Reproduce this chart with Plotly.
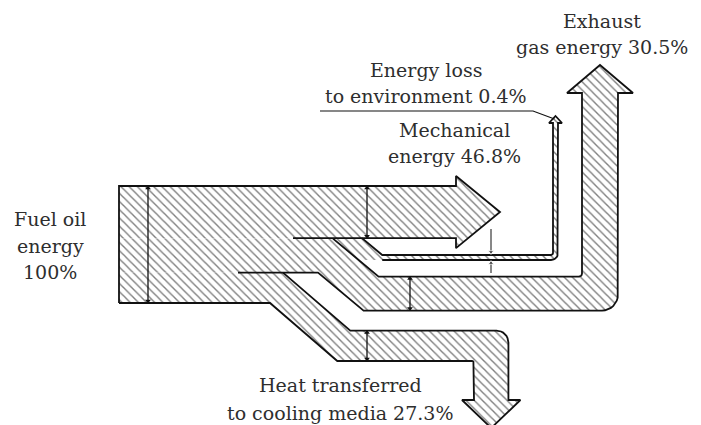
import math

import plotly.graph_objects as go

# energy balance, % of fuel oil energy
SOURCE_PCT = 100.0
MECH_PCT = 46.8
LOSS_PCT = 0.4
EXHAUST_PCT = 30.5
COOLING_PCT = 27.3

SOURCE_LINES = ["Fuel oil", "energy", f"{SOURCE_PCT:g}%"]
MECH_LINES = ["Mechanical", f"energy {MECH_PCT}%"]
LOSS_LINES = ["Energy loss", f"to environment {LOSS_PCT}%"]
EXHAUST_LINES = ["Exhaust", f"gas energy {EXHAUST_PCT}%"]
COOLING_LINES = ["Heat transferred", f"to cooling media {COOLING_PCT}%"]

W, H = 701, 425
INK = "#111111"
TEXT_COLOR = "#2e2e2e"
FONT = "DejaVu Serif"
FONT_SIZE = 19
HATCH = dict(shape="\\", size=5.8, solidity=0.24, fgcolor="#000000", bgcolor="white")

# layout of the diagram (pixel-like units, y grows downward)
X0, Y0 = 119, 186
BLOCK_H = 117
SRC_MARK_X = 148
MECH_SPLIT_X, MECH_HEAD_X, MECH_TIP_X, MECH_OVER, MECH_MARK_X = 293, 456, 500, 10, 367
LOSS_SPLIT_X, LOSS_Y, LOSS_COL_X, LOSS_HEAD_Y, LOSS_TIP_Y, LOSS_OVER, LOSS_MIN_W = 362, 255, 553, 123, 116, 4, 5
LOSS_MARK_X = 491
EXH_SPLIT_X, EXH_LOWER_X, EXH_DROP, EXH_COL_X = 333, 318, 38, 582
EXH_HEAD_Y, EXH_TIP_Y, EXH_OVER, EXH_R, EXH_MARK_X = 93, 65, 15, 16, 410
COOL_LINE_X, COOL_SPLIT_X, COOL_LOWER_X, COOL_DROP, COOL_COL_X = 238, 283, 270, 58, 474
COOL_HEAD_Y, COOL_TIP_Y, COOL_OVER, COOL_R, COOL_MARK_X = 400, 428, 12, 12, 367
SLOPE_EXH, SLOPE_COOL = 1.2, 1.16

# band widths follow the values
S = BLOCK_H / (MECH_PCT + LOSS_PCT + EXHAUST_PCT + COOLING_PCT)
w_mech = MECH_PCT * S
w_loss = max(LOSS_PCT * S, LOSS_MIN_W)
w_exh = EXHAUST_PCT * S
w_cool = COOLING_PCT * S

y_mech = Y0 + w_mech
y_exh = y_mech + LOSS_PCT * S
y_cool = y_exh + w_exh
y_bot = y_cool + w_cool


def arc(cx, cy, r, a0, a1, n=8):
    pts = []
    for i in range(n + 1):
        t = math.radians(a0 + (a1 - a0) * i / n)
        pts.append((cx + r * math.cos(t), cy + r * math.sin(t)))
    return pts


def head_up(xl, xr, y_base, y_tip, over):
    return [(xl, y_base), (xl - over, y_base), ((xl + xr) / 2, y_tip), (xr + over, y_base), (xr, y_base)]


def head_down(xl, xr, y_base, y_tip, over):
    return head_up(xr, xl, y_base, y_tip, -over)


# mechanical energy
mech_head = [(MECH_HEAD_X, Y0), (MECH_HEAD_X, Y0 - MECH_OVER), (MECH_TIP_X, (Y0 + y_mech) / 2),
             (MECH_HEAD_X, y_mech + MECH_OVER), (MECH_HEAD_X, y_mech)]
mech_fill = [(X0, Y0)] + mech_head + [(X0, y_mech)]
mech_line = [(X0, y_bot), (X0, Y0)] + mech_head + [(MECH_SPLIT_X, y_mech)]

# energy loss to environment
loss_top = LOSS_Y
loss_bot = LOSS_Y + w_loss
loss_diag_x = LOSS_SPLIT_X + (loss_top - y_mech) * SLOPE_EXH
r_in = 2
loss_path = (
    [(LOSS_SPLIT_X, y_mech), (loss_diag_x, loss_top)]
    + arc(LOSS_COL_X - r_in, loss_top - r_in, r_in, 90, 0)
    + head_up(LOSS_COL_X, LOSS_COL_X + w_loss, LOSS_HEAD_Y, LOSS_TIP_Y, LOSS_OVER)
    + arc(LOSS_COL_X + w_loss - (r_in + w_loss), loss_bot - (r_in + w_loss), r_in + w_loss, 0, 90)
)
exh_x_at_loss_bot = EXH_SPLIT_X + (loss_bot - y_exh) * SLOPE_EXH
loss_fill = loss_path + [(exh_x_at_loss_bot, loss_bot), (EXH_SPLIT_X, y_exh), (EXH_SPLIT_X, y_mech)]
loss_line = loss_path + [(loss_diag_x, loss_bot)]

# exhaust gas energy
exh_top = y_exh + EXH_DROP
exh_bot = exh_top + w_exh
exh_right = EXH_COL_X + w_exh + 2
exh_line = (
    [(EXH_SPLIT_X, y_exh), (EXH_SPLIT_X + EXH_DROP * SLOPE_EXH, exh_top)]
    + arc(EXH_COL_X - 3, exh_top - 3, 3, 90, 0)
    + head_up(EXH_COL_X, exh_right, EXH_HEAD_Y, EXH_TIP_Y, EXH_OVER)
    + arc(exh_right - EXH_R, exh_bot - EXH_R, EXH_R, 0, 90)
    + [(EXH_LOWER_X + EXH_DROP * SLOPE_EXH, exh_bot), (EXH_LOWER_X, y_cool), (COOL_LINE_X, y_cool)]
)
exh_fill = [(X0, y_exh)] + exh_line[:-1] + [(X0, y_cool)]

# heat to cooling media
cool_top = y_cool + COOL_DROP
cool_bot = cool_top + w_cool
cool_right = COOL_COL_X + w_cool + 4
cool_line = (
    [(COOL_SPLIT_X, y_cool), (COOL_SPLIT_X + COOL_DROP * SLOPE_COOL, cool_top)]
    + arc(cool_right - COOL_R, cool_top + COOL_R, COOL_R, -90, 0)
    + head_down(COOL_COL_X, cool_right, COOL_HEAD_Y, COOL_TIP_Y, COOL_OVER)
    + arc(COOL_COL_X - 2, cool_bot + 2, 2, 0, -90)
    + [(COOL_LOWER_X + COOL_DROP * SLOPE_COOL, cool_bot), (COOL_LOWER_X, y_bot), (X0, y_bot)]
)
cool_fill = [(X0, y_cool)] + cool_line

fig = go.Figure()

for pts in (mech_fill, loss_fill, exh_fill, cool_fill):
    fig.add_trace(go.Scatter(
        x=[p[0] for p in pts], y=[p[1] for p in pts], mode="lines", fill="toself",
        fillcolor="white", fillpattern=HATCH, line=dict(width=0, color="white"),
        hoverinfo="skip", showlegend=False,
    ))

for pts in (mech_line, loss_line, exh_line, cool_line):
    fig.add_trace(go.Scatter(
        x=[p[0] for p in pts], y=[p[1] for p in pts], mode="lines",
        line=dict(color=INK, width=1.8), hoverinfo="skip", showlegend=False,
    ))

# leader line for the loss label
fig.add_trace(go.Scatter(
    x=[320, LOSS_COL_X - 20, LOSS_COL_X + w_loss / 2 - 1],
    y=[111, 111, LOSS_TIP_Y + 3],
    mode="lines", line=dict(color=INK, width=1.2), hoverinfo="skip", showlegend=False,
))

# width markers (double arrows)
markers = [
    (SRC_MARK_X, Y0, y_bot),
    (MECH_MARK_X, Y0, y_mech),
    (EXH_MARK_X, exh_top, exh_bot),
    (COOL_MARK_X, cool_top, cool_bot),
]
for mx, ya, yb in markers:
    fig.add_trace(go.Scatter(
        x=[mx, mx], y=[ya + 2, yb - 2], mode="lines+markers",
        line=dict(color=INK, width=1.3),
        marker=dict(symbol=["triangle-up", "triangle-down"], size=5, color=INK),
        hoverinfo="skip", showlegend=False,
    ))
for ya, yb, sym in ((loss_top - 26, loss_top - 3, "triangle-down"), (loss_bot + 13, loss_bot + 3, "triangle-up")):
    fig.add_trace(go.Scatter(
        x=[LOSS_MARK_X, LOSS_MARK_X], y=[ya, yb], mode="lines+markers",
        line=dict(color=INK, width=1),
        marker=dict(symbol=["line-ew", sym], size=[0, 5], color=INK),
        hoverinfo="skip", showlegend=False,
    ))

labels = [
    (SOURCE_LINES, 50, [219, 246, 272]),
    (EXHAUST_LINES, 602, [21, 47]),
    (LOSS_LINES, 426, [70, 96]),
    (MECH_LINES, 454, [130, 156]),
    (COOLING_LINES, 340, [385, 413]),
]
for lines, lx, ys in labels:
    for text, ly in zip(lines, ys):
        fig.add_annotation(x=lx, y=ly, text=text, showarrow=False, xanchor="center", yanchor="middle",
                           font=dict(family=FONT, size=FONT_SIZE, color=TEXT_COLOR))

fig.update_layout(
    width=W, height=H, margin=dict(l=0, r=0, t=0, b=0),
    plot_bgcolor="white", paper_bgcolor="white", showlegend=False,
    font=dict(family=FONT),
    xaxis=dict(range=[0, W], visible=False, fixedrange=True),
    yaxis=dict(range=[H, 0], visible=False, fixedrange=True),
)

fig.write_html("out.html", config={"displayModeBar": False},
               post_script="document.body.style.margin='0';")
